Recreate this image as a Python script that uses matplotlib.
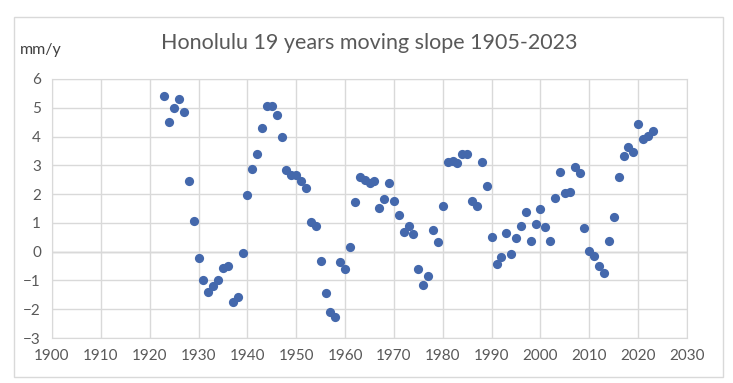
import numpy as np
import matplotlib as mpl
mpl.use('Agg')
import matplotlib.pyplot as plt
from matplotlib.patches import Rectangle

mpl.rcParams.update({'font.family': ['Lato', 'DejaVu Sans']})

years = np.arange(1923, 2024)
slope = [
    5.42, 4.50, 4.98, 5.32, 4.85, 2.47, 1.08, -0.23, -0.97, -1.39,   # 1923-1932
    -1.19, -0.97, -0.58, -0.49, -1.75, -1.57, -0.05, 1.98, 2.86, 3.41,  # 1933-1942
    4.28, 5.07, 5.07, 4.76, 3.98, 2.85, 2.65, 2.65, 2.47, 2.20,   # 1943-1952
    1.03, 0.90, -0.31, -1.45, -2.08, -2.26, -0.36, -0.61, 0.16, 1.72,  # 1953-1962
    2.59, 2.49, 2.37, 2.47, 1.50, 1.83, 2.37, 1.77, 1.28, 0.68,   # 1963-1972
    0.90, 0.60, -0.61, -1.15, -0.83, 0.76, 0.34, 1.60, 3.13, 3.16,  # 1973-1982
    3.07, 3.41, 3.41, 1.77, 1.60, 3.13, 2.29, 0.52, -0.44, -0.19,  # 1983-1992
    0.64, -0.09, 0.46, 0.90, 1.38, 0.38, 0.95, 1.47, 0.87, 0.38,   # 1993-2002
    1.86, 2.77, 2.03, 2.07, 2.95, 2.72, 0.82, 0.03, -0.14, -0.49,  # 2003-2012
    -0.75, 0.38, 1.20, 2.60, 3.33, 3.65, 3.47, 4.42, 3.90, 4.02,   # 2013-2022
    4.19,                                                          # 2023
]
xticks = np.arange(1900, 2031, 10)
yticks = np.arange(-3, 7, 1)

W, H = 733, 383
fig = plt.figure(figsize=(W / 100, H / 100), dpi=100, facecolor='white')
ax = fig.add_axes([52 / W, 1 - 338 / H, (687 - 52) / W, (338 - 79) / H])

# outer chart border
fig.patches.append(Rectangle((14 / W, 1 - 377 / H), (723 - 14) / W, (377 - 17) / H,
                             transform=fig.transFigure, fill=False, ec='#D9D9D9', lw=1))

ax.scatter(years, slope, s=44, color='#4468AC', zorder=3, lw=0)
ax.set_xlim(1900, 2030); ax.set_ylim(-3, 6)
ax.set_xticks(xticks); ax.set_yticks(yticks)
ax.grid(True, color='#D9D9D9', lw=1)
ax.axhline(0, color='#BFBFBF', lw=1, zorder=1)
for s in ax.spines.values():
    s.set_color('#D9D9D9')
ax.tick_params(length=0, labelsize=11, colors='#595959', pad=8)

fig.text(369 / W, 1 - 43 / H, 'Honolulu 19 years moving slope 1905-2023',
         ha='center', va='center', fontsize=15.5, color='#595959')
fig.text(20 / W, 1 - 50 / H, 'mm/y', ha='left', va='center', fontsize=11.5, color='#404040')

fig.savefig('out.png', dpi=100, facecolor='white')
